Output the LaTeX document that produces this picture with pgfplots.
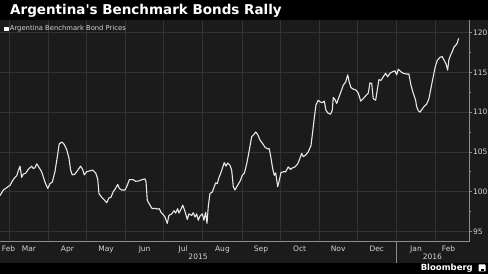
\documentclass[border=0pt]{standalone}
\usepackage{pgfplots}
\pgfplotsset{compat=1.18}
\usepackage{fontspec}
\setmainfont{DejaVu Sans}
\definecolor{panel}{HTML}{1B1B1B}
\definecolor{gridc}{HTML}{333333}
\definecolor{axisc}{HTML}{8C8C8C}
\definecolor{txt}{HTML}{D4D4D4}
\definecolor{linec}{HTML}{E8E8E8}
\begin{document}
\begin{tikzpicture}
\fill[black] (0,0) rectangle (488bp,274bp);
\fill[panel] (0,11bp) rectangle (488bp,253.5bp);
\node[anchor=base west, text=white, font=\bfseries\fontsize{13.5bp}{15bp}\selectfont, inner sep=0] at (10bp,259bp) {Argentina\textquotesingle s Benchmark Bonds Rally};
\begin{axis}[
  at={(0bp,32.5bp)}, anchor=south west,
  scale only axis, width=469bp, height=221bp,
  xmin=-7.33, xmax=363.4, ymin=93.72, ymax=121.54,
  axis x line*=bottom, axis y line*=right,
  axis line style={axisc, line width=0.7bp},
  clip=false,
  xtick={-0.6,15.5,46,76.5,107,137.5,168.5,199,229.5,260,290.5,321.5,347.2},
  xticklabels={Feb,Mar,Apr,May,Jun,Jul,Aug,Sep,Oct,Nov,Dec,Jan,Feb},
  minor xtick={0,31,61,92,122,153,184,214,245,275,306,337},
  xminorgrids,
  xtick style={draw=none},
  ytick={95,100,105,110,115,120},
  minor y tick num=1,
  ymajorgrids,
  ytick style={axisc, line width=0.7bp},
  major tick length=3bp, minor tick length=2bp,
  tick align=outside,
  major grid style={gridc, line width=0.7bp},
  minor grid style={gridc, line width=0.7bp},
  /pgf/number format/assume math mode=true,
  xticklabel style={font=\fontsize{7.5bp}{9bp}\selectfont, text=txt, inner sep=1bp, yshift=-0.5bp},
  yticklabel style={font=\fontsize{7.5bp}{9bp}\selectfont, text=txt, inner sep=1bp},
  legend style={at={(0.0085,0.9615)}, anchor=west, draw=none, fill=none,
    text=txt, font=\fontsize{6.8bp}{8bp}\selectfont, inner sep=0pt,
    nodes={inner sep=1bp}},
  legend image code/.code={\fill[white] (0bp,-1.8bp) rectangle (3.6bp,1.8bp);},
]
\addplot[linec, line width=1.1bp, line join=round, mark=none] table {
x y
-7.3 99.5
-4.7 100.2
-2.0 100.5
0.6 100.8
2.7 101.4
4.5 101.8
5.9 102.0
7.1 102.6
8.5 103.2
9.8 101.8
11.1 102.2
13.2 102.35
15.0 102.8
17.7 103.2
19.0 102.9
20.3 103.0
21.7 103.5
22.9 103.2
25.6 102.5
28.2 101.2
30.4 100.4
32.2 101.0
34.0 101.2
36.1 102.5
38.0 104.4
39.5 106.0
41.4 106.25
43.2 106.0
45.4 105.3
47.2 104.2
48.5 102.7
49.8 102.1
51.9 102.2
54.6 102.8
56.4 103.2
58.0 102.8
59.3 102.1
61.2 102.5
63.2 102.6
65.9 102.7
68.3 102.35
69.9 101.6
70.9 99.75
73.0 99.3
74.9 99.0
77.0 98.6
78.8 99.2
80.4 99.3
82.2 100.0
83.6 100.3
85.7 100.9
87.0 100.4
88.9 100.2
91.5 100.2
93.3 100.8
94.9 101.5
98.0 101.5
99.9 101.3
102.5 101.35
104.7 101.5
107.3 101.6
108.1 101.2
109.1 98.9
111.2 98.3
113.0 97.85
115.2 97.9
117.0 97.8
118.6 97.85
119.9 97.4
121.7 97.1
123.1 96.8
124.9 96.0
126.2 97.0
128.4 97.2
130.2 97.6
131.5 97.3
133.1 97.85
134.1 97.3
135.5 97.7
137.1 98.3
138.9 97.5
140.7 96.5
142.0 97.2
144.2 97.0
145.4 97.35
146.8 96.8
148.1 97.2
149.4 96.4
150.7 96.9
152.6 97.2
153.9 96.4
155.2 97.4
156.3 96.0
157.3 98.1
158.6 99.75
160.5 99.95
162.0 100.6
163.1 101.1
164.4 101.0
165.8 101.8
167.1 102.3
168.4 102.9
169.9 103.65
171.3 103.2
172.6 103.6
174.5 103.3
175.8 102.7
177.1 100.6
178.4 100.2
180.5 100.8
182.4 101.3
184.2 102.05
185.8 102.3
187.7 103.5
189.7 105.2
191.6 106.9
193.4 107.2
194.8 107.5
196.3 107.2
198.2 106.5
200.0 106.1
202.1 105.6
203.9 105.4
205.5 105.4
206.9 104.2
208.2 102.9
209.5 102.05
210.6 102.35
212.2 100.6
213.4 101.4
214.8 102.4
216.6 102.5
218.5 102.5
220.5 103.1
222.4 102.8
224.0 103.0
225.8 103.1
228.0 103.5
229.8 104.2
231.1 104.8
232.4 104.4
234.3 104.6
236.3 105.0
238.5 105.8
239.8 107.5
240.9 109.0
242.4 110.9
244.2 111.5
245.6 111.3
247.4 111.2
249.0 111.4
250.3 110.25
252.1 109.85
254.0 109.75
255.3 110.25
256.1 111.85
257.4 111.6
258.8 111.1
260.6 111.9
262.7 112.8
264.0 113.4
265.9 113.8
267.5 114.7
268.7 113.8
270.1 113.1
271.9 112.9
274.0 112.8
275.9 112.4
277.8 111.4
279.8 111.7
281.9 112.1
283.8 112.4
285.1 113.7
286.5 113.6
287.7 111.7
289.6 111.5
290.9 112.8
292.2 114.1
293.8 114.0
295.6 114.45
297.5 114.9
299.1 114.45
300.9 114.9
303.1 115.1
304.9 115.2
306.2 114.7
307.5 115.4
309.4 115.1
311.4 114.9
314.1 114.8
315.9 114.8
317.5 113.4
319.3 112.4
321.2 111.5
322.0 110.7
323.3 110.2
324.6 110.0
326.0 110.3
327.8 110.7
329.9 111.0
331.7 111.7
333.3 113.0
335.1 114.45
336.7 115.7
338.3 116.5
340.4 116.9
342.2 117.0
343.8 116.5
345.2 116.1
346.5 115.3
347.5 116.6
348.9 117.2
350.1 117.6
351.5 118.2
353.1 118.45
354.1 118.7
355.2 119.3
};
\addlegendentry{Argentina Benchmark Bond Prices}
\draw[axisc, line width=0.7bp] (axis cs:306,93.72) -- ++(0pt,-21bp);
\node[text=txt, font=\fontsize{7.5bp}{9bp}\selectfont, inner sep=0] at ([yshift=-15.5bp]axis cs:149.2,93.72) {2015};
\node[text=txt, font=\fontsize{7.5bp}{9bp}\selectfont, inner sep=0] at ([yshift=-15.5bp]axis cs:334.5,93.72) {2016};
\end{axis}
\node[anchor=east, text=white, font=\bfseries\fontsize{8.5bp}{9bp}\selectfont, inner sep=0] at (473bp,6bp) {Bloomberg};
\fill[white, rounded corners=0.6bp] (478.5bp,2.5bp) rectangle (485.5bp,9.5bp);
\fill[black] (480.5bp,2.5bp) rectangle (483.5bp,4.5bp);
\pgfresetboundingbox
\useasboundingbox (0,0) rectangle (488bp,274bp);
\end{tikzpicture}
\end{document}
